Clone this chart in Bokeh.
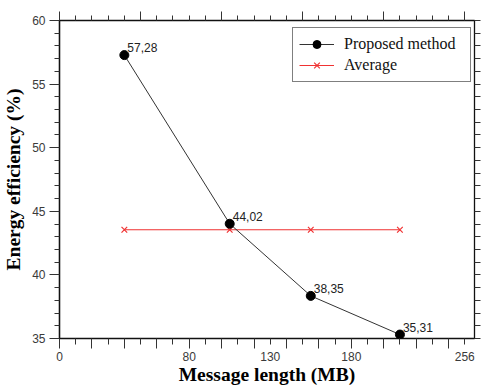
from bokeh.plotting import figure
from bokeh.models import (Range1d, LinearAxis, FixedTicker, Legend, LegendItem,
                          ColumnDataSource, LabelSet)
from bokeh.core.properties import value
from bokeh.embed import file_html
from bokeh.resources import INLINE

# ---- data ----
message_length = [40, 105, 155, 210]
proposed_method = [57.28, 44.02, 38.35, 35.31]
average = [43.55, 43.55, 43.55, 43.55]
point_labels = [f"{v:.2f}".replace(".", ",") for v in proposed_method]

x_label_ticks = [0, 80, 130, 180, 250]
x_label_text = ["0", "80", "130", "180", "256"]
x_long_ticks = list(range(0, 257, 20))
x_short_ticks = list(range(10, 257, 20))
top_long_ticks = list(range(0, 257, 50))
top_short_ticks = [t for t in range(0, 257, 10) if t % 50]
y_major_ticks = [35, 40, 45, 50, 55, 60]
y_minor_ticks = [v for v in range(35, 61) if v % 5]
right_ticks = list(range(35, 61))

X_MIN, X_MAX, Y_MIN, Y_MAX = 0, 256, 35, 60

SANS = "Liberation Sans"
SERIF = "Liberation Serif"
AXIS_COLOR = "#111111"
TICK_COLOR = "#333333"
LABEL_COLOR = "#3a3a3a"
TITLE_SIZE = "19.5px"

p = figure(width=482, height=392, x_range=Range1d(X_MIN, X_MAX),
           y_range=Range1d(Y_MIN, Y_MAX),
           x_axis_type=None, y_axis_type=None, output_backend="svg",
           toolbar_location=None,
           min_border_left=58, min_border_right=8, min_border_top=20,
           min_border_bottom=54,
           outline_line_color=AXIS_COLOR, outline_line_width=1.3,
           background_fill_color="white", border_fill_color="white")


def tick_axis(minor, length):
    """An axis that draws only outward tick marks (no labels, no extent)."""
    return LinearAxis(ticker=FixedTicker(ticks=[], minor_ticks=minor),
                      major_tick_out=0, major_tick_in=0,
                      minor_tick_out=0, minor_tick_in=-length,
                      major_label_standoff=0,
                      axis_line_color=None,
                      minor_tick_line_color=TICK_COLOR, minor_tick_line_width=1)


# bottom: long ticks, short ticks, then labels + title
p.add_layout(tick_axis(x_long_ticks, 10), "below")
p.add_layout(tick_axis(x_short_ticks, 6), "below")
ax_bl = LinearAxis(ticker=FixedTicker(ticks=x_label_ticks, minor_ticks=[]),
                   major_label_overrides=dict(zip(x_label_ticks, x_label_text)),
                   major_tick_out=0, major_tick_in=0, minor_tick_out=0, minor_tick_in=0,
                   axis_line_color=None, major_label_standoff=13,
                   major_label_text_font=SANS, major_label_text_font_size="12px",
                   major_label_text_color=LABEL_COLOR,
                   axis_label="Message length (MB)", axis_label_standoff=0,
                   axis_label_text_font=SERIF, axis_label_text_font_style="bold",
                   axis_label_text_font_size=TITLE_SIZE, axis_label_text_color="black")
p.add_layout(ax_bl, "below")

# top
p.add_layout(tick_axis(top_long_ticks, 9), "above")
p.add_layout(tick_axis(top_short_ticks, 5), "above")

# right
p.add_layout(tick_axis(right_ticks, 6), "right")

# left
ax_left = LinearAxis(ticker=FixedTicker(ticks=y_major_ticks, minor_ticks=y_minor_ticks),
                     major_tick_out=10, major_tick_in=0, minor_tick_out=5, minor_tick_in=0,
                     axis_line_color=AXIS_COLOR, axis_line_width=1.3,
                     major_tick_line_color=TICK_COLOR, minor_tick_line_color=TICK_COLOR,
                     major_label_standoff=4, major_label_text_font=SANS,
                     major_label_text_font_size="12px", major_label_text_color=LABEL_COLOR,
                     axis_label="Energy efficiency (%)", axis_label_standoff=5,
                     axis_label_text_font=SERIF, axis_label_text_font_style="bold",
                     axis_label_text_font_size=TITLE_SIZE, axis_label_text_color="black")
p.add_layout(ax_left, "left")

src = ColumnDataSource(dict(x=message_length, y=proposed_method, avg=average,
                            lab=point_labels))

r_avg_line = p.line("x", "avg", source=src, line_color="#f03232", line_width=1.2)
r_avg_pts = p.scatter("x", "avg", source=src, marker="x", size=8,
                      line_color="#f03232", line_width=1.2)
r_prop_line = p.line("x", "y", source=src, line_color="#333333", line_width=1)
r_prop_pts = p.scatter("x", "y", source=src, marker="circle", size=9,
                       fill_color="black", line_color="black")

labels = LabelSet(x="x", y="y", text="lab", source=src, x_offset=3, y_offset=3,
                  text_baseline="alphabetic", text_font=value(SANS),
                  text_font_size="12px", text_color="#222222")
p.add_layout(labels)

legend = Legend(items=[LegendItem(label="Proposed method", renderers=[r_prop_line, r_prop_pts]),
                       LegendItem(label="Average", renderers=[r_avg_line, r_avg_pts])],
                location=(233, 256), padding=6, spacing=1, margin=0,
                title_standoff=0,
                label_height=20, glyph_height=20, glyph_width=35,
                label_standoff=10, label_width=120,
                border_line_color="black", border_line_width=1.2,
                background_fill_color="white", background_fill_alpha=1,
                label_text_font=SERIF, label_text_font_size="16px",
                label_text_color="#111111")
p.add_layout(legend, "center")

open("out.html", "w").write(file_html(p, INLINE))
